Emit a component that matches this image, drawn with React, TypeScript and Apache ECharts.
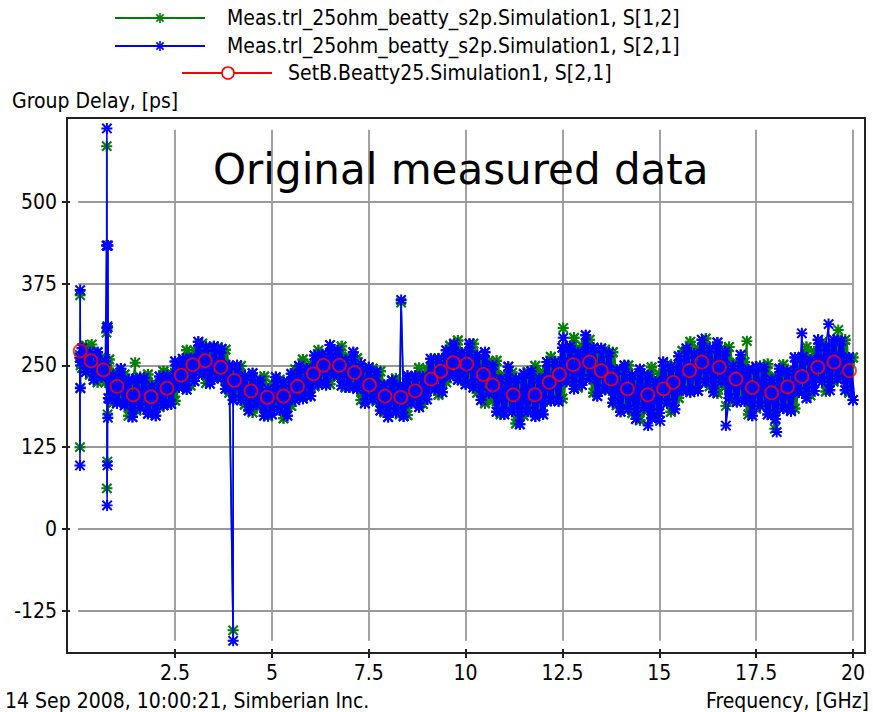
import React, { useEffect, useRef } from "react";
import * as echarts from "echarts";

// ---------- data ----------
const FREQ = [
  0.1, 0.2, 0.3, 0.4, 0.5, 0.6, 0.7, 0.8, 0.9, 1.0,
  1.1, 1.2, 1.3, 1.4, 1.5, 1.6, 1.7, 1.8, 1.9, 2.0,
  2.1, 2.2, 2.3, 2.4, 2.5, 2.6, 2.7, 2.8, 2.9, 3.0,
  3.1, 3.2, 3.3, 3.4, 3.5, 3.6, 3.7, 3.8, 3.9, 4.0,
  4.1, 4.2, 4.3, 4.4, 4.5, 4.6, 4.7, 4.8, 4.9, 5.0,
  5.1, 5.2, 5.3, 5.4, 5.5, 5.6, 5.7, 5.8, 5.9, 6.0,
  6.1, 6.2, 6.3, 6.4, 6.5, 6.6, 6.7, 6.8, 6.9, 7.0,
  7.1, 7.2, 7.3, 7.4, 7.5, 7.6, 7.7, 7.8, 7.9, 8.0,
  8.1, 8.2, 8.3, 8.4, 8.5, 8.6, 8.7, 8.8, 8.9, 9.0,
  9.1, 9.2, 9.3, 9.4, 9.5, 9.6, 9.7, 9.8, 9.9, 10.0,
  10.1, 10.2, 10.3, 10.4, 10.5, 10.6, 10.7, 10.8, 10.9, 11.0,
  11.1, 11.2, 11.3, 11.4, 11.5, 11.6, 11.7, 11.8, 11.9, 12.0,
  12.1, 12.2, 12.3, 12.4, 12.5, 12.6, 12.7, 12.8, 12.9, 13.0,
  13.1, 13.2, 13.3, 13.4, 13.5, 13.6, 13.7, 13.8, 13.9, 14.0,
  14.1, 14.2, 14.3, 14.4, 14.5, 14.6, 14.7, 14.8, 14.9, 15.0,
  15.1, 15.2, 15.3, 15.4, 15.5, 15.6, 15.7, 15.8, 15.9, 16.0,
  16.1, 16.2, 16.3, 16.4, 16.5, 16.6, 16.7, 16.8, 16.9, 17.0,
  17.1, 17.2, 17.3, 17.4, 17.5, 17.6, 17.7, 17.8, 17.9, 18.0,
  18.1, 18.2, 18.3, 18.4, 18.5, 18.6, 18.7, 18.8, 18.9, 19.0,
  19.1, 19.2, 19.3, 19.4, 19.5, 19.6, 19.7, 19.8, 19.9, 20.0,
];

// Meas S[2,1] (blue)
const S21_DELAY = [
  276, 240, 270, 228, 270, 232, 256, 199, 235, 192,
  245, 189, 228, 171, 230, 185, 231, 176, 218, 173,
  233, 189, 234, 191, 256, 216, 260, 213, 261, 226,
  286, 236, 278, 222, 279, 231, 275, 214, 250, 197,
  250, 197, 234, 181, 238, 190, 227, 173, 214, 175,
  232, 181, 224, 173, 237, 197, 249, 199, 245, 203,
  265, 221, 267, 220, 281, 235, 273, 219, 258, 216,
  270, 214, 252, 192, 247, 198, 240, 181, 220, 171,
  227, 178, 219, 172, 234, 192, 234, 186, 233, 198,
  260, 213, 260, 209, 273, 233, 283, 228, 269, 221,
  283, 216, 266, 197, 270, 207, 250, 179, 229, 175,
  248, 179, 230, 160, 237, 179, 241, 172, 230, 175,
  255, 196, 255, 195, 277, 225, 279, 214, 270, 220,
  296, 229, 277, 203, 276, 213, 269, 193, 243, 179,
  250, 183, 235, 168, 244, 185, 235, 169, 225, 177,
  255, 192, 248, 183, 264, 211, 276, 209, 268, 211,
  289, 224, 276, 209, 285, 225, 271, 200, 249, 194,
  266, 195, 244, 173, 248, 188, 247, 175, 228, 168,
  245, 184, 241, 180, 262, 209, 263, 200, 258, 211,
  289, 225, 279, 212, 289, 229, 287, 212, 262, 197,
];

// Meas S[1,2] (green)
const S12_DELAY = [
  246, 280, 236, 264, 224, 262, 224, 259, 193, 239,
  201, 236, 173, 223, 181, 232, 186, 236, 176, 222,
  186, 241, 190, 238, 196, 255, 219, 273, 219, 273,
  242, 283, 223, 274, 230, 278, 230, 274, 208, 246,
  203, 249, 190, 228, 178, 229, 186, 233, 172, 222,
  188, 228, 169, 225, 188, 244, 204, 259, 203, 252,
  218, 273, 223, 267, 221, 274, 232, 279, 216, 263,
  226, 261, 197, 244, 198, 245, 195, 241, 178, 220,
  180, 230, 175, 219, 174, 231, 193, 246, 191, 245,
  216, 260, 205, 261, 224, 280, 238, 288, 227, 270,
  223, 283, 208, 258, 192, 257, 196, 257, 175, 235,
  190, 239, 161, 227, 173, 240, 184, 249, 176, 240,
  195, 263, 197, 256, 199, 275, 225, 292, 216, 280,
  238, 289, 208, 270, 212, 274, 212, 270, 189, 244,
  190, 250, 177, 229, 166, 235, 181, 247, 171, 237,
  197, 252, 179, 250, 200, 272, 219, 286, 214, 276,
  229, 291, 218, 270, 207, 275, 217, 278, 195, 254,
  208, 255, 175, 240, 184, 249, 190, 252, 174, 233,
  185, 251, 183, 241, 184, 259, 209, 278, 204, 271,
  231, 285, 210, 279, 225, 290, 230, 289, 208, 262,
];

// outlier samples [GHz, ps]
const S21_OUTLIERS = [
  [0.04, 262], [0.045, 97], [0.05, 365], [0.055, 215], [0.06, 255],
  [0.73, 433], [0.735, 308], [0.74, 612], [0.745, 36], [0.75, 433],
  [0.755, 97], [0.76, 308], [0.765, 170], [0.77, 433], [0.775, 200],
  [3.999, -171], [8.335, 350], [12.52, 292], [14.71, 158], [15.02, 165],
  [16.72, 158], [18.03, 148], [18.68, 299], [19.37, 313],
];
const S12_OUTLIERS = [
  [0.04, 266], [0.045, 125], [0.05, 357], [0.055, 216], [0.06, 250],
  [0.35, 282], [0.73, 300], [0.735, 585], [0.74, 62], [0.745, 433],
  [0.75, 103], [0.755, 310], [0.76, 175], [1.47, 254], [3.999, -155],
  [8.335, 346], [12.52, 307], [16.72, 188], [17.26, 287], [17.98, 153],
  [19.62, 304],
];

// SetB.Beatty25 simulation S[2,1] (red)
const SIM_FREQ = [
  0.05, 0.33, 0.65, 1.0, 1.42, 1.88, 2.29, 2.66, 2.96,
  3.28, 3.68, 4.03, 4.46, 4.88, 5.30, 5.66, 6.07, 6.33, 6.74, 7.13,
  7.52, 7.92, 8.33, 8.70, 9.11, 9.36, 9.68, 10.03, 10.46, 10.70,
  11.23, 11.79, 12.16, 12.42, 12.78, 13.20, 13.50, 13.76, 14.18, 14.70,
  15.11, 15.36, 15.78, 16.10, 16.55, 16.98, 17.40, 17.90, 18.31, 18.68,
  19.09, 19.51, 19.91,
];
const SIM_DELAY = [
  272, 257, 243, 218, 205, 202, 215, 235, 251,
  257, 247, 227, 211, 201, 203, 218, 237, 250, 250, 239,
  220, 203, 201, 211, 229, 241, 254, 252, 236, 220,
  205, 205, 224, 236, 251, 255, 242, 229, 214, 205,
  214, 224, 242, 255, 247, 229, 216, 208, 217, 233,
  247, 255, 242,
];

const X_TICKS = [2.5, 5, 7.5, 10, 12.5, 15, 17.5, 20];
const Y_TICKS = [-125, 0, 125, 250, 375, 500];

const SERIES_NAMES = [
  "Meas.trl_25ohm_beatty_s2p.Simulation1, S[1,2]",
  "Meas.trl_25ohm_beatty_s2p.Simulation1, S[2,1]",
  "SetB.Beatty25.Simulation1, S[2,1]",
];

// ---------- helpers ----------
const bandPoints = (vals: number[]) => FREQ.map((f, i) => [f, vals[i]]);
const withOutliers = (vals: number[], extra: number[][]) =>
  bandPoints(vals).concat(extra).sort((a, b) => a[0] - b[0]);

const STAR =
  "path://M4.1,0H5.9V10H4.1Z M0,4.1H10V5.9H0Z M1.4,0.1L9.9,8.6L8.6,9.9L0.1,1.4Z M8.6,0.1L9.9,1.4L1.4,9.9L0.1,8.6Z";

const FONT = "'Liberation Sans Narrow', 'DejaVu Sans Condensed', 'Liberation Sans', sans-serif";
const FS = 21;

const GREEN = "#008000";
const BLUE = "#0000ff";
const RED = "#ff0000";

const starLines = (cx: number, cy: number, color: string) => {
  const r = 5;
  const d = 3.6;
  return [
    [cx - r, cy, cx + r, cy],
    [cx, cy - r, cx, cy + r],
    [cx - d, cy - d, cx + d, cy + d],
    [cx - d, cy + d, cx + d, cy - d],
  ].map(([x1, y1, x2, y2]) => ({
    type: "line",
    shape: { x1, y1, x2, y2 },
    style: { stroke: color, lineWidth: 1.6 },
    z: 10,
  }));
};

const legendText = (x: number, y: number, text: string) => ({
  type: "text",
  x,
  y,
  style: { text, fill: "#000", fontSize: FS, fontFamily: FONT, align: "left", verticalAlign: "middle" },
  z: 10,
});

export default function App() {
  const ref = useRef<HTMLDivElement>(null);
  useEffect(() => {
    const chart = echarts.init(ref.current!, null, { renderer: "svg" });
    const gy0 = -171;
    const gy1 = 610;
    const gx0 = 0;
    const gx1 = 20;
    const gridLines = [
      ...X_TICKS.map((x) => [{ coord: [x, gy0] }, { coord: [x, gy1] }]),
      ...Y_TICKS.map((y) => [{ coord: [gx0, y] }, { coord: [gx1, y] }]),
    ];
    const meas = (color: string, width: number, z: number) => ({
      type: "line",
      color,
      lineStyle: { color, width },
      symbol: STAR,
      symbolSize: 11,
      showSymbol: true,
      showAllSymbol: true,
      itemStyle: { color },
      z,
    });
    const xBase = {
      type: "value",
      min: -0.29,
      max: 20.31,
      splitLine: { show: false },
    };
    const yBase = {
      type: "value",
      min: -189.6,
      max: 628,
      splitLine: { show: false },
    };
    const option: any = {
      animation: false,
      backgroundColor: "#fff",
      grid: {
        left: 67,
        top: 118,
        right: 8,
        bottom: 59,
        show: true,
        borderColor: "#222",
        borderWidth: 2,
        backgroundColor: "#fff",
      },
      xAxis: [
        {
          ...xBase,
          position: "bottom",
          axisLine: { show: true, onZero: false, lineStyle: { color: "#222", width: 2 } },
          axisTick: { show: true, customValues: X_TICKS, length: 5, lineStyle: { color: "#222", width: 2 } },
          axisLabel: {
            customValues: X_TICKS,
            color: "#000",
            fontSize: FS,
            fontFamily: FONT,
            margin: 9,
            formatter: (v: number) => String(v),
          },
        },
        {
          ...xBase,
          position: "bottom",
          axisLine: { show: false, onZero: false },
          axisTick: { show: true, inside: true, customValues: X_TICKS, length: 4, lineStyle: { color: "#222", width: 2 } },
          axisLabel: { show: false },
        },
      ],
      yAxis: [
        {
          ...yBase,
          position: "left",
          axisLine: { show: true, onZero: false, lineStyle: { color: "#222", width: 2 } },
          axisTick: { show: true, customValues: Y_TICKS, length: 5, lineStyle: { color: "#222", width: 2 } },
          axisLabel: {
            customValues: Y_TICKS,
            color: "#000",
            fontSize: FS,
            fontFamily: FONT,
            margin: 10,
            formatter: (v: number) => String(v),
          },
        },
        {
          ...yBase,
          position: "left",
          axisLine: { show: false, onZero: false },
          axisTick: { show: true, inside: true, customValues: Y_TICKS, length: 3, lineStyle: { color: "#222", width: 2 } },
          axisLabel: { show: false },
        },
      ],
      series: [
        {
          type: "line",
          name: "grid",
          data: [[-5, -1000]],
          showSymbol: false,
          lineStyle: { opacity: 0 },
          z: 1,
          silent: true,
          markLine: {
            silent: true,
            z: 1,
            symbol: ["none", "none"],
            label: { show: false },
            lineStyle: { color: "#999", width: 1.8, type: "solid" },
            data: gridLines,
          },
        },
        { ...meas(GREEN, 1.6, 2), name: SERIES_NAMES[0], data: withOutliers(S12_DELAY, S12_OUTLIERS) },
        { ...meas(GREEN, 5, 2.1), name: SERIES_NAMES[0] + " band", data: bandPoints(S12_DELAY) },
        { ...meas(BLUE, 1.6, 3), name: SERIES_NAMES[1], data: withOutliers(S21_DELAY, S21_OUTLIERS) },
        { ...meas(BLUE, 5, 3.1), name: SERIES_NAMES[1] + " band", data: bandPoints(S21_DELAY) },
        {
          type: "scatter",
          name: SERIES_NAMES[2],
          data: SIM_FREQ.map((f, i) => [f, SIM_DELAY[i]]),
          symbol: "circle",
          symbolSize: 13,
          itemStyle: { color: "rgba(0,0,0,0)", borderColor: RED, borderWidth: 1.8 },
          z: 4,
        },
      ],
      graphic: [
        // legend row 1
        { type: "line", shape: { x1: 115, y1: 18, x2: 205, y2: 18 }, style: { stroke: GREEN, lineWidth: 2 }, z: 10 },
        ...starLines(160, 18, GREEN),
        legendText(227, 18, SERIES_NAMES[0]),
        // legend row 2
        { type: "line", shape: { x1: 115, y1: 46, x2: 205, y2: 46 }, style: { stroke: BLUE, lineWidth: 2 }, z: 10 },
        ...starLines(160, 46, BLUE),
        legendText(227, 46, SERIES_NAMES[1]),
        // legend row 3
        { type: "line", shape: { x1: 182, y1: 73, x2: 272, y2: 73 }, style: { stroke: RED, lineWidth: 2 }, z: 10 },
        { type: "circle", shape: { cx: 228, cy: 73, r: 6 }, style: { stroke: RED, fill: "#fff", lineWidth: 1.6 }, z: 11 },
        legendText(288, 73, SERIES_NAMES[2]),
        // axis titles
        legendText(12, 101, "Group Delay, [ps]"),
        {
          type: "text",
          x: 869,
          y: 701,
          style: { text: "Frequency, [GHz]", fill: "#000", fontSize: FS, fontFamily: FONT, align: "right", verticalAlign: "middle" },
          z: 10,
        },
        legendText(5, 701, "14 Sep 2008, 10:00:21, Simberian Inc."),
        {
          type: "text",
          x: 213,
          y: 169,
          style: {
            text: "Original measured data",
            fill: "#000",
            fontSize: 42,
            fontFamily: "'DejaVu Sans', Verdana, sans-serif",
            align: "left",
            verticalAlign: "middle",
          },
          z: 10,
        },
      ],
    };
    chart.setOption(option);
    return () => chart.dispose();
  }, []);
  return <div ref={ref} style={{ position: "fixed", left: 0, top: 0, width: 873, height: 712 }} />;
}
